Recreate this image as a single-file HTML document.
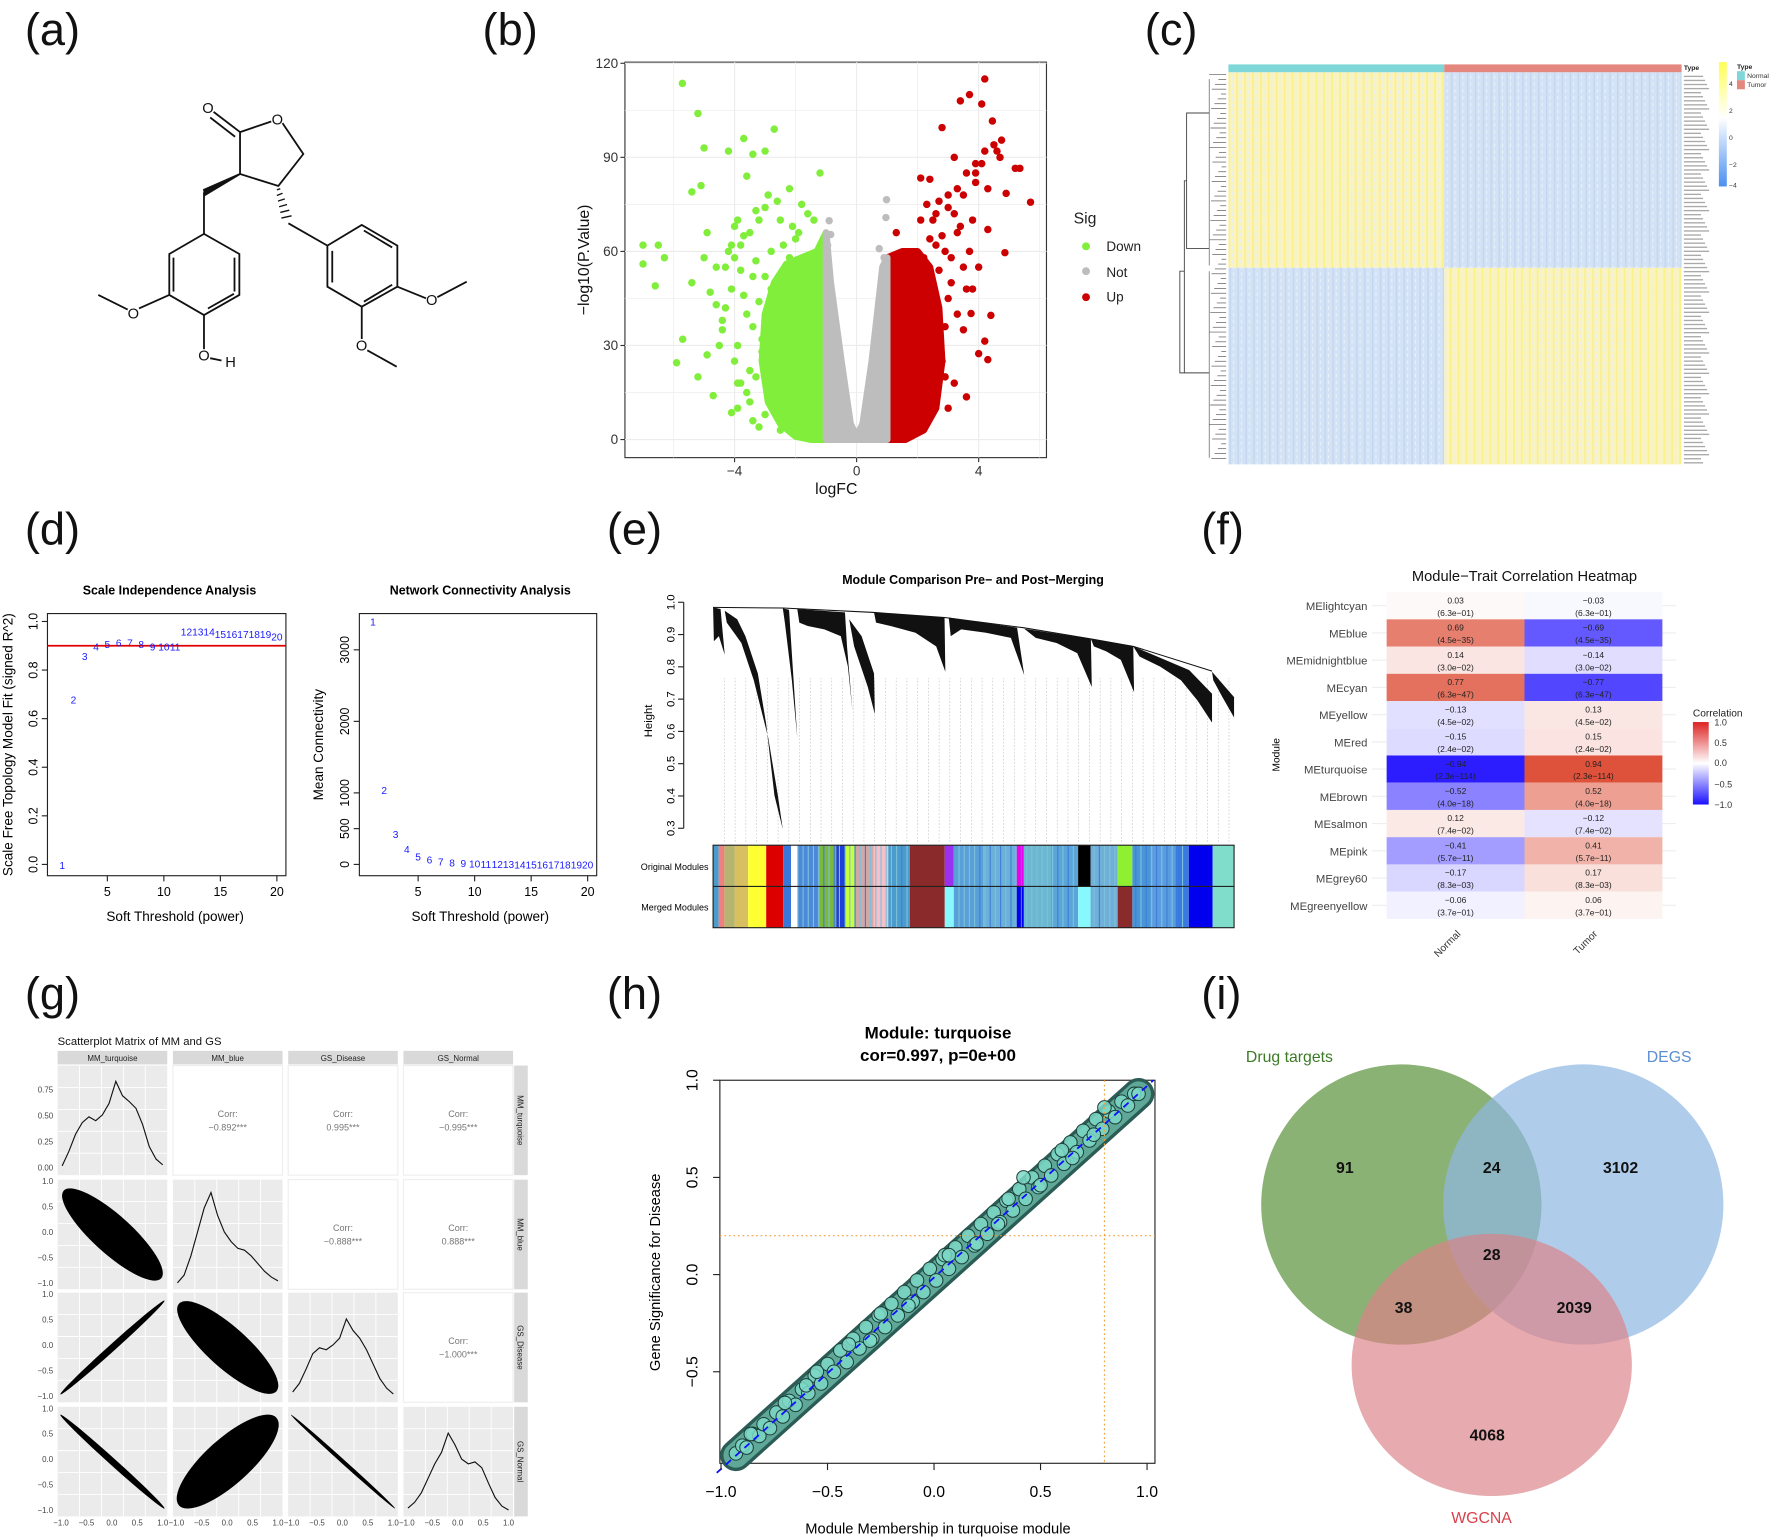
<!DOCTYPE html>
<html><head><meta charset="utf-8">
<style>
html,body{margin:0;padding:0;background:#fff;}
svg{display:block;font-family:"Liberation Sans",Arial,sans-serif;}
</style></head>
<body>
<svg id="fig" width="1772" height="1539" viewBox="0 0 1568 1362" preserveAspectRatio="none" xmlns="http://www.w3.org/2000/svg">
<rect x="0" y="0" width="1568" height="1362" fill="#fff"/>
<g font-size="40" fill="#111">
<text x="22" y="40">(a)</text>
<text x="427" y="40">(b)</text>
<text x="1013" y="40">(c)</text>
<text x="22" y="482">(d)</text>
<text x="537" y="482">(e)</text>
<text x="1063" y="482">(f)</text>
<text x="22" y="893">(g)</text>
<text x="537" y="893">(h)</text>
<text x="1063" y="893">(i)</text>
</g>

<!-- (a) structure -->
<g id="chem" stroke="#111" stroke-width="1.6" fill="none">
<polyline points="212.4,116.9 240,107.5"/>
<polyline points="250,109 268.4,136.3 246.3,164.6 212.4,154 212.4,116.9"/>
<line x1="212.4" y1="116.9" x2="189" y2="99"/>
<line x1="208" y1="121" x2="186" y2="104"/>
<polygon points="212.4,154 180.5,168 181.5,172.5" fill="#111"/>
<line x1="180.5" y1="170.2" x2="180.5" y2="207"/>
<polygon points="180.5,207 211.8,224.8 211.8,261 180.5,278.8 149.8,261 149.8,224.8"/>
<polyline points="153.5,228 153.5,258"/>
<polyline points="207.5,228 207.5,258"/>
<polyline points="184,273 207,260"/>
<polyline points="149.8,261 123,273"/>
<polyline points="113,274 87,261"/>
<polyline points="180.5,278.8 180.5,309"/>
<line x1="186" y1="317" x2="196" y2="319"/>
<g stroke-width="1.2">
<line x1="245" y1="168" x2="248" y2="167"/><line x1="245" y1="173" x2="250" y2="171"/><line x1="246" y1="178" x2="252" y2="176"/><line x1="247" y1="183" x2="254" y2="181"/><line x1="248" y1="188" x2="256" y2="186"/><line x1="249" y1="193" x2="258" y2="191"/>
</g>
<line x1="255.2" y1="197.6" x2="289.7" y2="217.4"/>
<polygon points="289.7,217.4 320.1,199.1 351.6,217.4 351.6,253.7 320.1,271.4 289.7,253.7"/>
<polyline points="294,222 294,250"/>
<polyline points="322,204 347,219"/>
<polyline points="322,267 347,252"/>
<polyline points="351.6,253.7 377,264"/>
<polyline points="387,263 413,249.3"/>
<polyline points="320.1,271.4 320.1,300"/>
<polyline points="325,310 351,324.5"/>
</g>
<g font-size="13" fill="#111" text-anchor="middle">
<text x="184" y="100">O</text>
<text x="245.4" y="110">O</text>
<text x="118" y="282">O</text>
<text x="180.5" y="319">O</text>
<text x="204" y="325">H</text>
<text x="382" y="270">O</text>
<text x="320" y="310">O</text>
</g>

<!-- (b) volcano -->
<g id="volcano">
<rect x="553" y="55" width="373" height="350" fill="#fff" stroke="#333" stroke-width="1"/>
<g id="vgrid"></g>
<g id="vdense"></g>
<g id="vpts"></g>
<g id="vaxes" font-size="12" fill="#333"></g>
<text x="740" y="437" font-size="14" text-anchor="middle" fill="#111">logFC</text>
<text transform="translate(521,230) rotate(-90)" font-size="14" text-anchor="middle" fill="#111">−log10(P.Value)</text>
<text x="950" y="198" font-size="14" fill="#222">Sig</text>
<circle cx="961" cy="218" r="3.5" fill="#80ee3b"/>
<text x="979" y="222" font-size="12" fill="#222">Down</text>
<circle cx="961" cy="240" r="3.5" fill="#bdbdbd"/>
<text x="979" y="245" font-size="12" fill="#222">Not</text>
<circle cx="961" cy="263" r="3.5" fill="#cc0000"/>
<text x="979" y="267" font-size="12" fill="#222">Up</text>
</g>

<!-- (c) heatmap -->
<defs>
<pattern id="stripY" width="7" height="6" patternUnits="userSpaceOnUse">
<rect width="7" height="6" fill="#f9f3bf"/><rect x="2" width="1.5" height="6" fill="#fbf08a"/><rect x="5" y="2" width="1" height="3" fill="#e8eef6"/>
</pattern>
<pattern id="stripB" width="7" height="6" patternUnits="userSpaceOnUse">
<rect width="7" height="6" fill="#d3e2f5"/><rect x="3" width="1.2" height="6" fill="#c3d6f0"/><rect x="6" y="1" width="1" height="3" fill="#e9f0fa"/>
</pattern>
<linearGradient id="hmLeg" x1="0" y1="0" x2="0" y2="1">
<stop offset="0" stop-color="#ffff55"/><stop offset="0.45" stop-color="#ffffff"/><stop offset="1" stop-color="#4a8ff0"/>
</linearGradient>
<linearGradient id="corLeg" x1="0" y1="0" x2="0" y2="1">
<stop offset="0" stop-color="#dd2222"/><stop offset="0.5" stop-color="#ffffff"/><stop offset="1" stop-color="#1a10ff"/>
</linearGradient>
</defs>
<g id="heatmap">
<rect x="1087" y="57" width="191" height="7" fill="#7fd7d9"/>
<rect x="1278" y="57" width="210" height="7" fill="#e4877f"/>
<rect x="1087" y="64" width="191" height="173" fill="url(#stripY)"/>
<rect x="1278" y="64" width="210" height="173" fill="url(#stripB)"/>
<rect x="1087" y="237" width="191" height="174" fill="url(#stripB)"/>
<rect x="1278" y="237" width="210" height="174" fill="url(#stripY)"/>
<g id="dendro-c" stroke="#444" stroke-width="0.8" fill="none">
<polyline points="1070,100 1050,100 1050,220 1070,220"/>
<polyline points="1050,160 1048,160 1048,330 1070,330"/>
<polyline points="1048,240 1044,240 1044,330 1048,330"/>
</g>
<g id="dlines" stroke="#555" stroke-width="0.6"></g>
<g id="genelbl" fill="#888"></g>
<text x="1490" y="62" font-size="6" font-weight="bold" fill="#222">Type</text>
<rect x="1521" y="55" width="7" height="110" fill="url(#hmLeg)"/>
<g font-size="6" fill="#333">
<text x="1530" y="76">4</text><text x="1530" y="100">2</text><text x="1530" y="124">0</text><text x="1530" y="148">−2</text><text x="1530" y="166">−4</text>
</g>
<text x="1537" y="61" font-size="6" font-weight="bold" fill="#222">Type</text>
<rect x="1537" y="63" width="7" height="8" fill="#7fd7d9"/>
<text x="1546" y="69" font-size="6" fill="#333">Normal</text>
<rect x="1537" y="71" width="7" height="8" fill="#e4877f"/>
<text x="1546" y="77" font-size="6" fill="#333">Tumor</text>
</g>

<!-- (d) -->
<g id="sft">
<text x="150" y="526" font-size="11" font-weight="bold" text-anchor="middle">Scale Independence Analysis</text>
<rect x="42" y="543" width="211" height="232" fill="none" stroke="#222"/>
<text x="155" y="815" font-size="12" text-anchor="middle">Soft Threshold (power)</text>
<text transform="translate(11,659) rotate(-90)" font-size="12" text-anchor="middle">Scale Free Topology Model Fit (signed R^2)</text>
<text x="425" y="526" font-size="11" font-weight="bold" text-anchor="middle">Network Connectivity Analysis</text>
<rect x="318" y="543" width="210" height="232" fill="none" stroke="#222"/>
<text x="425" y="815" font-size="12" text-anchor="middle">Soft Threshold (power)</text>
<text transform="translate(286,659) rotate(-90)" font-size="12" text-anchor="middle">Mean Connectivity</text>
<g id="sftg" font-size="11"></g>
</g>

<!-- (e) -->
<g id="dendro">
<text x="861" y="517" font-size="11" font-weight="bold" text-anchor="middle">Module Comparison Pre− and Post−Merging</text>
<text transform="translate(577,638) rotate(-90)" font-size="10" text-anchor="middle">Height</text>
<g id="eaxis" font-size="10"></g>
<g id="edots" stroke="#bbb" stroke-width="0.5" stroke-dasharray="1.5,1.5"></g>
<g id="eclust"></g>
<g id="ebars"></g>
<rect x="631" y="748" width="461" height="73" fill="none" stroke="#222" stroke-width="1"/>
<line x1="631" y1="784.5" x2="1092" y2="784.5" stroke="#222"/>
<text x="627" y="770" font-size="8" text-anchor="end">Original Modules</text>
<text x="627" y="806" font-size="8" text-anchor="end">Merged Modules</text>
</g>

<!-- (f) -->
<g id="mtc">
<text x="1349" y="514" font-size="13" text-anchor="middle" fill="#111">Module−Trait Correlation Heatmap</text>
<text transform="translate(1132,668) rotate(-90)" font-size="9" text-anchor="middle">Module</text>
<g id="mtcg"></g>
<text x="1498" y="634" font-size="9" fill="#222">Correlation</text>
<rect x="1498" y="639" width="14" height="73" fill="url(#corLeg)"/>
<g font-size="8" fill="#333">
<text x="1517" y="642">1.0</text><text x="1517" y="660">0.5</text><text x="1517" y="678">0.0</text><text x="1517" y="697">−0.5</text><text x="1517" y="715">−1.0</text>
</g>
<text transform="translate(1293,827) rotate(-45)" font-size="9" text-anchor="end" fill="#333">Normal</text>
<text transform="translate(1414,827) rotate(-45)" font-size="9" text-anchor="end" fill="#333">Tumor</text>
</g>

<!-- (g) -->
<g id="spm">
<text x="51" y="925" font-size="10" fill="#111">Scatterplot Matrix of MM and GS</text>
<g id="spmg"></g>
</g>

<!-- (h) -->
<g id="mmgs">
<text x="830" y="919" font-size="15" font-weight="bold" text-anchor="middle">Module: turquoise</text>
<text x="830" y="939" font-size="15" font-weight="bold" text-anchor="middle">cor=0.997, p=0e+00</text>
<rect x="637" y="956" width="385" height="339" fill="none" stroke="#222"/>
<g id="hpts"></g>
<g id="haxes" font-size="14"></g>
<text x="830" y="1357" font-size="13" text-anchor="middle">Module Membership in turquoise module</text>
<text transform="translate(584,1126) rotate(-90)" font-size="13" text-anchor="middle">Gene Significance for Disease</text>
</g>

<!-- (i) -->
<g id="venn">
<circle cx="1240" cy="1066" r="124" fill="#5e9440" fill-opacity="0.72"/>
<circle cx="1401" cy="1066" r="124" fill="#8fb6e2" fill-opacity="0.7"/>
<ellipse cx="1320" cy="1208" rx="124" ry="116" fill="#dc8188" fill-opacity="0.68"/>
<text x="1141" y="940" font-size="14" fill="#3c7a26" text-anchor="middle">Drug targets</text>
<text x="1477" y="940" font-size="14" fill="#5b8fd0" text-anchor="middle">DEGS</text>
<text x="1311" y="1348" font-size="14" fill="#d9414b" text-anchor="middle">WGCNA</text>
<g font-size="14" font-weight="bold" fill="#111" text-anchor="middle">
<text x="1190" y="1038">91</text>
<text x="1320" y="1038">24</text>
<text x="1434" y="1038">3102</text>
<text x="1320" y="1115">28</text>
<text x="1242" y="1162">38</text>
<text x="1393" y="1162">2039</text>
<text x="1316" y="1275">4068</text>
</g>
</g>
</svg>

<script>
const NS='http://www.w3.org/2000/svg';
function mk(tag,attrs,parent,txt){const e=document.createElementNS(NS,tag);for(const k in attrs)e.setAttribute(k,attrs[k]);if(txt!==undefined)e.textContent=txt;parent.appendChild(e);return e;}
const $=id=>document.getElementById(id);

/* ---------- (b) volcano data ---------- */
const downFC=[-5.71,-5.2,-5.0,-4.2,-3.7,-3.4,-3.0,-2.7,-1.2,-7.0,-6.5,-7.0,-6.3,-6.6,-5.9,-5.7,-5.4,-5.1,-4.7,-4.1,-5.4,-4.9,-2.4,-4.6,-4.3,-3.9,-3.3,-2.9,-4.9,-3.6,-4.4,-5.2,-3.8,-2.2,-1.6,
 -4.0,-3.8,-3.5,-3.2,-3.0,-3.4,-3.7,-4.1,-4.4,-3.9,-3.1,-2.8,-3.6,-4.2,-3.3,-2.9,-3.5,-4.0,-3.2,-2.6,-3.8,-4.5,-3.0,-2.5,-3.4,-2.1,-1.8,-1.4,-2.0,-3.9,-4.6,-3.1,-2.7,-3.6,-4.3,
 -3.0,-3.3,-2.8,-2.4,-3.5,-3.9,-4.1,-2.2,-2.9,-3.7,-1.9,-1.6,-2.3,-3.2,-2.6,-4.8,-5.0,-4.0,-3.4,-2.5];
const downP=[113.6,104,93,92,96,91,92,99,85,62,62,56,58,49,24.5,32,79,81,14,8.6,50,27,4,43,55,70,73,78,66,84,38,20,18,80,72,
 58,62,66,70,74,52,46,48,35,30,28,60,40,60,20,16,12,25,44,76,54,30,8,70,36,68,75,70,64,10,55,32,45,15,42,
 52,57,48,62,22,18,62,58,38,65,66,58,12,4,30,47,58,68,6,3];
const upFC=[4.2,3.7,3.4,2.8,4.75,5.35,5.7,4.86,4.9,2.1,1.3,4.3,4.4,4.0,4.3,4.2,3.6,4.1,4.45,5.2,3.75,3.2,3.0,2.6,2.4,3.5,3.9,4.6,3.1,2.9,3.3,2.5,
 2.7,3.0,3.3,3.6,3.9,4.1,2.5,2.8,3.2,3.5,3.8,2.6,2.9,3.4,3.7,4.0,2.3,3.1,3.6,4.3,4.7,2.7,3.0,3.3,2.4,2.2,2.9,3.8,3.5,2.6,4.5,4.2,3.9,2.8,3.2,2.1,2.5,3.0];
const upP=[115,110,108,99.5,95.5,86.5,75.7,59.6,78.5,83.4,66,67,39.6,27.4,25.5,31.4,13.6,107,101.6,86.5,40.2,90,78,72,83,55,88,92,50,20,66,12,
 76,74,80,85,82,88,70,65,72,78,70,62,60,68,60,55,75,58,48,80,90,54,45,40,64,58,36,48,35,30,94,92,85,25,18,70,50,10];
const notFC=[0.98,0.96,-0.9,-0.85,0.74,-0.95,0.9];
const notP=[76.5,70.8,69.8,65.4,60.9,62,58];
const downEnvFC=[-1.0,-1.0,-1.3,-1.8,-2.3,-2.7,-3.0,-3.1,-2.9,-2.5,-2.0,-1.5];
const downEnvP=[0,66,60,58,56,50,40,25,12,5,1,0];
const upEnvFC=[1.0,1.0,1.5,2.0,2.4,2.7,2.8,2.6,2.2,1.6];
const upEnvP=[0,58,60,60,55,42,25,10,3,0];
const notEnvFC=[-1.0,-1.0,-0.85,-0.5,-0.2,0,0.2,0.5,0.85,1.0,1.0];
const notEnvP=[0,66,50,25,5,1,5,25,55,58,0];
const vxTicks=[-4,0,4];
const vyTicks=[0,30,60,90,120];
(function(){
 const X=v=>758+v*27, Y=v=>389-v*2.775;
 const g=$('vgrid');
 [-6,-2,2,6].concat(vxTicks).forEach(t=>{if(X(t)>553&&X(t)<926){const l=mk('line',{x1:X(t),x2:X(t),y1:55,y2:405,stroke:'#ececec','stroke-width':vxTicks.includes(t)?1:0.6},g);

}});
 [15,45,75,105].concat(vyTicks).forEach(t=>{const l=mk('line',{x1:553,x2:926,y1:Y(t),y2:Y(t),stroke:'#ececec','stroke-width':vyTicks.includes(t)?1:0.6},g);

});
 const d=$('vdense');
 function env(fc,p,col,name){const pts=fc.map((f,i)=>X(f)+','+Y(p[i])).join(' ');const e=mk('polygon',{points:pts,fill:col,stroke:col,'stroke-width':6,'stroke-linejoin':'round'},d);
 
 }
 env(downEnvFC,downEnvP,'#80ee3b','down-dense-cloud');
 env(upEnvFC,upEnvP,'#cc0000','up-dense-cloud');
 env(notEnvFC,notEnvP,'#bdbdbd','not-dense-cloud');
 const p=$('vpts');
 downFC.forEach((f,i)=>{const c=mk('circle',{cx:X(f),cy:Y(downP[i]),r:3.3,fill:'#80ee3b'},p);
 
 });
 upFC.forEach((f,i)=>{const c=mk('circle',{cx:X(f),cy:Y(upP[i]),r:3.3,fill:'#cc0000'},p);
 
 });
 notFC.forEach((f,i)=>{const c=mk('circle',{cx:X(f),cy:Y(notP[i]),r:3.3,fill:'#bdbdbd'},p);
 
 });
 const a=$('vaxes');
 vxTicks.forEach(t=>{mk('line',{x1:X(t),x2:X(t),y1:405,y2:409,stroke:'#333'},a);const tx=mk('text',{x:X(t),y:421,'text-anchor':'middle'},a,t<0?'−'+(-t):String(t));
 
 });
 vyTicks.forEach(t=>{mk('line',{x1:549,x2:553,y1:Y(t),y2:Y(t),stroke:'#333'},a);const tx=mk('text',{x:547,y:Y(t)+4,'text-anchor':'end'},a,String(t));
 
 });
})();

/* ---------- (c) heatmap decorations ---------- */
(function(){
 const d=$('dlines');
 for(let y=66;y<410;y+=4.3){const l=mk('line',{x1:1070+((y*7)%11),x2:1085,y1:y,y2:y},d);
 
 }
 mk('line',{x1:1070,x2:1070,y1:70,y2:235},d);mk('line',{x1:1070,x2:1070,y1:240,y2:405},d);
 const gl=$('genelbl');
 for(let y=67;y<411;y+=3.6){const r=mk('rect',{x:1490,y:y,width:14+((y*3)%9),height:1.2,fill:'#aaa'},gl);
 
 }
})();

/* ---------- (d) soft threshold data ---------- */
const powers=[1,2,3,4,5,6,7,8,9,10,11,12,13,14,15,16,17,18,19,20];
const sftR2=[0.0,0.68,0.86,0.9,0.91,0.915,0.915,0.91,0.9,0.9,0.9,0.96,0.96,0.96,0.95,0.95,0.95,0.95,0.95,0.94];
const meanK=[3400,1050,430,220,120,75,50,35,25,18,14,12,10,9,8,8,7,7,6,6];
const r2Ticks=[0,0.2,0.4,0.6,0.8,1.0];
const kTicks=[0,500,1000,2000,3000];
const powTicks=[5,10,15,20];
const cutoff=0.9;
(function(){
 const g=$('sftg');
 const XL=v=>45+v*10, YL=v=>765-v*215;
 const XR=v=>320+v*10, YR=v=>765-v*0.0633;
 const h=mk('line',{x1:42,x2:253,y1:YL(cutoff),y2:YL(cutoff),stroke:'#e00000','stroke-width':1.5},g);
 
 
 powers.forEach((p,i)=>{const t=mk('text',{x:XL(p),y:YL(sftR2[i])+4,'text-anchor':'middle',fill:'#1a1aff','font-size':9},g,String(p));
 
 
 const t2=mk('text',{x:XR(p),y:YR(meanK[i])+4,'text-anchor':'middle',fill:'#1a1aff','font-size':9},g,String(p));
 
 });
 powTicks.forEach(p=>{mk('line',{x1:XL(p),x2:XL(p),y1:775,y2:780,stroke:'#222'},g);const a=mk('text',{x:XL(p),y:793,'text-anchor':'middle'},g,String(p));
 
 
 mk('line',{x1:XR(p),x2:XR(p),y1:775,y2:780,stroke:'#222'},g);const b=mk('text',{x:XR(p),y:793,'text-anchor':'middle'},g,String(p));
 
 });
 r2Ticks.forEach(v=>{mk('line',{x1:37,x2:42,y1:YL(v),y2:YL(v),stroke:'#222'},g);const a=mk('text',{transform:`translate(33,${YL(v)}) rotate(-90)`,'text-anchor':'middle'},g,v.toFixed(1));
 
 });
 kTicks.forEach(v=>{mk('line',{x1:313,x2:318,y1:YR(v),y2:YR(v),stroke:'#222'},g);const a=mk('text',{transform:`translate(309,${YR(v)}) rotate(-90)`,'text-anchor':'middle'},g,String(v));
 
 });
})();

/* ---------- (e) dendrogram + module colours ---------- */
const origStart=[631,636,641,650,662,678,693,700,706,725,740,748,757,773,786,805,836,844,870,899,906,930,954,965,989,1002,1020,1040,1052,1073];
const origColor=['#4a9ccc','#f08080','#b5b570','#d8c060','#ffff33','#dd0000','#3a78d8','#ffffff','#4a8ad8','#7ab840','#1f3fd8','#c8ff40','#d0a8a8','#f5c0c8','#4a9ccc','#8b2a2a','#9b30f0','#5aa0d8','#6ab0d8','#ee00ee','#6cb8d0','#5aa6d8','#000000','#70b0d8','#8ef030','#4a94d8','#5a9ce0','#3a7ae0','#0000ee','#80dccb'];
const mergedStart=[631,636,641,650,662,678,693,700,706,725,740,748,757,773,786,805,836,844,870,899,906,930,954,965,989,1002,1020,1040,1052,1073];
const mergedColor=['#4a9ccc','#f08080','#b5b570','#d8c060','#ffff33','#dd0000','#3a78d8','#ffffff','#4a8ad8','#7ab840','#1f3fd8','#c8ff40','#d0a8a8','#f5c0c8','#4a9ccc','#8b2a2a','#88f8ff','#5aa0d8','#6ab0d8','#0000ee','#6cb8d0','#5aa6d8','#88f8ff','#70b0d8','#8b2a2a','#4a94d8','#5a9ce0','#3a7ae0','#0000ee','#80dccb'];
const heightTicks=[0.3,0.4,0.5,0.6,0.7,0.8,0.9,1.0];
(function(){
 const Y=v=>733-(v-0.3)*285.7;
 const ax=$('eaxis');
 mk('line',{x1:605,x2:605,y1:Y(0.3),y2:Y(1.0),stroke:'#222'},ax);
 heightTicks.forEach(v=>{mk('line',{x1:600,x2:605,y1:Y(v),y2:Y(v),stroke:'#222'},ax);const t=mk('text',{transform:`translate(597,${Y(v)}) rotate(-90)`,'text-anchor':'middle'},ax,v.toFixed(1));
 
 });
 const dots=$('edots');
 for(let x=641;x<1092;x+=9.5){mk('line',{x1:x,x2:x,y1:745,y2:600},dots);}
 const Z=(zx,zy)=>(631+(zx-272)*0.367).toFixed(1)+','+(533+(zy-70)*0.3).toFixed(1);
 const cl=$('eclust');
 const top=mk('polyline',{points:[Z(272,85),Z(440,87),Z(660,100),Z(830,115),Z(1020,145),Z(1183,178),Z(1285,200),Z(1475,273)].join(' '),fill:'none',stroke:'#111','stroke-width':0.9},cl);
 
 
 const shapes=[
  [[272,85],[290,90],[300,225],[286,170],[274,185]],
  [[300,95],[330,120],[350,170],[380,280],[400,430],[420,640],[440,740],[428,640],[405,470],[370,300],[340,190],[305,130]],
  [[440,88],[455,92],[475,470],[462,300],[445,130]],
  [[475,90],[590,100],[595,200],[608,390],[597,260],[580,170],[540,150],[500,140],[480,130]],
  [[600,120],[630,170],[660,280],[662,400],[645,320],[612,200]],
  [[660,100],[830,115],[832,275],[810,200],[760,160],[700,140],[665,130]],
  [[840,115],[1005,145],[1022,285],[990,175],[930,160],[870,150],[845,170]],
  [[1022,148],[1183,178],[1185,320],[1150,220],[1100,190],[1050,175]],
  [[1183,178],[1285,200],[1287,335],[1255,240],[1220,215],[1190,200]],
  [[1285,200],[1420,270],[1475,340],[1475,425],[1440,360],[1400,300],[1350,260],[1300,230]],
  [[1475,275],[1528,350],[1528,410],[1500,350],[1478,300]]
 ];
 shapes.forEach(s=>{const p=mk('polygon',{points:s.map(q=>Z(q[0],q[1])).join(' '),fill:'#111'},cl);
 
 });
 const b=$('ebars');
 origStart.forEach((x,i)=>{const x2=i+1<origStart.length?origStart[i+1]:1092;const r=mk('rect',{x:x,y:748,width:x2-x,height:36.5,fill:origColor[i]},b);
 
 });
 mergedStart.forEach((x,i)=>{const x2=i+1<mergedStart.length?mergedStart[i+1]:1092;const r=mk('rect',{x:x,y:784.5,width:x2-x,height:36.5,fill:mergedColor[i]},b);
 
 });
 for(let x=706;x<1050;x+=4.6){if((x>805&&x<845)||(x>952&&x<967)||(x>988&&x<1003))continue;const l=mk('line',{x1:x,x2:x,y1:748,y2:821,stroke:(Math.floor(x)%3===0)?'#3f7fd8':'#7cc0dc','stroke-width':1},b);
 
 }
})();

/* ---------- (f) module-trait data ---------- */
const modules=['MElightcyan','MEblue','MEmidnightblue','MEcyan','MEyellow','MEred','MEturquoise','MEbrown','MEsalmon','MEpink','MEgrey60','MEgreenyellow'];
const corNormal=[0.03,0.69,0.14,0.77,-0.13,-0.15,-0.94,-0.52,0.12,-0.41,-0.17,-0.06];
const pvals=['6.3e-01','4.5e-35','3.0e-02','6.3e-47','4.5e-02','2.4e-02','2.3e-114','4.0e-18','7.4e-02','5.7e-11','8.3e-03','3.7e-01'];
(function(){
 const g=$('mtcg');
 const x0=1227,cw=122,y0=524,rh=24.1;
 function col(v){const t=Math.min(1,Math.abs(v));
  if(v>=0){return `rgb(${Math.round(255-(255-220)*t)},${Math.round(255-(255-70)*t)},${Math.round(255-(255-45)*t)})`;}
  return `rgb(${Math.round(255-(255-30)*t)},${Math.round(255-(255-15)*t)},255)`;}
 modules.forEach((m,i)=>{
  const y=y0+i*rh;
  mk('line',{x1:1214,x2:1483,y1:y+rh/2,y2:y+rh/2,stroke:'#eee'},g);
  const lab=mk('text',{x:1210,y:y+rh/2+4,'text-anchor':'end','font-size':10,fill:'#444'},g,m);
  
  
  [corNormal[i],-corNormal[i]].forEach((v,j)=>{
   const r=mk('rect',{x:x0+j*cw,y:y,width:cw,height:rh,fill:col(v)},g);
   
   
   const s=(v<0?'−':'')+Math.abs(v).toFixed(2);
   const t1=mk('text',{x:x0+j*cw+cw/2,y:y+10,'text-anchor':'middle','font-size':7.5,fill:'#222'},g,s);
   
   
   const t2=mk('text',{x:x0+j*cw+cw/2,y:y+21,'text-anchor':'middle','font-size':7.5,fill:'#222'},g,'('+pvals[i].replace('-','−')+')');
   
   
  });
 });
})();

/* ---------- (g) scatterplot matrix ---------- */
const vars=['MM_turquoise','MM_blue','GS_Disease','GS_Normal'];
const corrs=[['','−0.892***','0.995***','−0.995***'],['','','−0.888***','0.888***'],['','','','−1.000***']];
const densTurq=[0.05,0.2,0.38,0.5,0.56,0.52,0.58,0.7,0.93,0.78,0.72,0.65,0.48,0.25,0.12,0.06];
const densBlue=[0.02,0.1,0.3,0.55,0.8,0.96,0.72,0.55,0.45,0.38,0.36,0.3,0.22,0.14,0.08,0.04];
const densDis=[0.06,0.15,0.3,0.46,0.52,0.5,0.55,0.62,0.82,0.7,0.62,0.5,0.35,0.2,0.1,0.04];
const densNorm=[0.04,0.1,0.2,0.35,0.5,0.62,0.82,0.7,0.55,0.5,0.52,0.46,0.3,0.15,0.06,0.02];
const pairSlope=[[0,0,0,0],[-1,0,0,0],[1,-1,0,0],[-1,1,-1,0]];
const pairWidth=[[0,0,0,0],[17,0,0,0],[3,18,0,0],[3,20,1.8,0]];
(function(){
 const g=$('spmg');
 const cx=[51,153,255,357], cy=[943,1044,1144,1245], s=97;
 vars.forEach((v,i)=>{
  mk('rect',{x:cx[i],y:930,width:s,height:12,fill:'#d9d9d9'},g);
  const t=mk('text',{x:cx[i]+s/2,y:939,'text-anchor':'middle','font-size':7,fill:'#222'},g,v);
  
  
  mk('rect',{x:455,y:cy[i],width:12,height:s,fill:'#d9d9d9'},g);
  const t2=mk('text',{transform:`translate(458,${cy[i]+s/2}) rotate(90)`,'text-anchor':'middle','font-size':7,fill:'#222'},g,v);
  
  
 });
 const dens=[densTurq,densBlue,densDis,densNorm];
 for(let r=0;r<4;r++)for(let c=0;c<4;c++){
  const x=cx[c],y=cy[r];
  if(c>r){
   mk('rect',{x:x,y:y,width:s,height:s,fill:'#fff',stroke:'#eee'},g);
   const a=mk('text',{x:x+s/2,y:y+s/2-3,'text-anchor':'middle','font-size':8,fill:'#777'},g,'Corr:');
   
   
   const b=mk('text',{x:x+s/2,y:y+s/2+9,'text-anchor':'middle','font-size':8,fill:'#777'},g,corrs[r][c]);
   
   
   continue;}
  mk('rect',{x:x,y:y,width:s,height:s,fill:'#ebebeb'},g);
  for(let k=1;k<5;k++){mk('line',{x1:x+k*s/5,x2:x+k*s/5,y1:y,y2:y+s,stroke:'#fff','stroke-width':0.8},g);mk('line',{x1:x,x2:x+s,y1:y+k*s/5,y2:y+k*s/5,stroke:'#fff','stroke-width':0.8},g);}
  if(r===c){
   const d=dens[r];const pts=d.map((v,k)=>(x+4+k*(s-8)/(d.length-1)).toFixed(1)+','+(y+s-4-v*(s-12)).toFixed(1)).join(' ');
   const p=mk('polyline',{points:pts,fill:'none',stroke:'#111','stroke-width':1},g);
   
   
  } else {
   const sl=pairSlope[r][c],w=pairWidth[r][c];
   const ccx=x+s/2, ccy=y+s/2, ang=sl<0?42:-42;
   const e=mk('ellipse',{cx:ccx,cy:ccy,rx:w>5?58:62,ry:w,fill:'#000',transform:`rotate(${ang} ${ccx} ${ccy})`},g);
   
   
  }
 }
 const yl1=['0.75','0.50','0.25','0.00'];
 yl1.forEach((t,k)=>{const e=mk('text',{x:47,y:cy[0]+24+k*23,'text-anchor':'end','font-size':7,fill:'#444'},g,t);
 
 });
 const yl=['1.0','0.5','0.0','−0.5','−1.0'];
 for(let r=1;r<4;r++)yl.forEach((t,k)=>{const e=mk('text',{x:47,y:cy[r]+4+k*22.5,'text-anchor':'end','font-size':7,fill:'#444'},g,t);
 
 });
 for(let c=0;c<4;c++)yl.slice().reverse().forEach((t,k)=>{const e=mk('text',{x:cx[c]+3+k*22.5,y:1350,'text-anchor':'middle','font-size':7,fill:'#444'},g,t);
 
 });
})();

/* ---------- (h) MM vs GS ---------- */
const mmVals=[-0.93,-0.9,-0.88,-0.85,-0.82,-0.8,-0.77,-0.74,-0.71,-0.68,-0.65,-0.62,-0.59,-0.56,-0.53,-0.5,-0.47,-0.44,-0.41,-0.38,-0.35,-0.32,-0.29,-0.26,-0.23,-0.2,-0.17,-0.14,-0.11,-0.08,-0.05,-0.02,0.01,0.04,0.07,0.1,0.13,0.16,0.19,0.22,0.25,0.28,0.31,0.34,0.37,0.4,0.43,0.46,0.49,0.52,0.55,0.58,0.61,0.64,0.67,0.7,0.73,0.76,0.79,0.82,0.85,0.88,0.91,0.94,0.96,-0.86,-0.7,-0.55,-0.4,-0.25,-0.1,0.05,0.2,0.35,0.5,0.65,0.8,0.6,0.3,-0.3,-0.6,0.42,0.07,-0.12,0.75];
const gsVals=[-0.92,-0.88,-0.89,-0.82,-0.83,-0.77,-0.79,-0.71,-0.73,-0.65,-0.67,-0.59,-0.61,-0.52,-0.56,-0.46,-0.5,-0.39,-0.45,-0.33,-0.38,-0.27,-0.33,-0.21,-0.27,-0.15,-0.21,-0.09,-0.15,-0.03,-0.09,0.03,-0.03,0.08,0.03,0.14,0.09,0.2,0.15,0.26,0.21,0.32,0.27,0.38,0.33,0.44,0.39,0.5,0.45,0.56,0.51,0.62,0.57,0.68,0.63,0.74,0.69,0.8,0.75,0.84,0.81,0.89,0.87,0.93,0.93,-0.82,-0.66,-0.5,-0.36,-0.2,-0.14,0.1,0.16,0.39,0.46,0.6,0.86,0.64,0.26,-0.34,-0.57,0.5,0.1,-0.16,0.72];
const hxTicks=[-1,-0.5,0,0.5,1];
const hyTicks=[-0.5,0,0.5,1];
const mmCut=0.8, gsCut=0.2;
(function(){
 const X=v=>826.5+v*188.5, Y=v=>1128-v*172;
 const g=$('hpts');
 const band=mk('line',{x1:X(-0.93),y1:Y(-0.93),x2:X(0.96),y2:Y(0.93),stroke:'#2b5c55','stroke-width':28,'stroke-linecap':'round'},g);
 
 
 const band2=mk('line',{x1:X(-0.93),y1:Y(-0.93),x2:X(0.96),y2:Y(0.93),stroke:'#5fa898','stroke-width':22,'stroke-linecap':'round'},g);
 
 
 mmVals.forEach((m,i)=>{const c=mk('circle',{cx:X(m),cy:Y(gsVals[i]),r:6,fill:'#7dd8c6','fill-opacity':0.85,stroke:'#1d3e39','stroke-width':0.9},g);
 
 });
 const fit=mk('line',{x1:X(-1.02),y1:Y(-1.02),x2:X(1.03),y2:Y(1.0),stroke:'#1010ff','stroke-width':1.6,'stroke-dasharray':'6,5'},g);
 
 
 const v=mk('line',{x1:X(mmCut),x2:X(mmCut),y1:956,y2:1295,stroke:'#f0a040','stroke-width':1,'stroke-dasharray':'1.5,2.5'},g);
 
 
 const h=mk('line',{x1:637,x2:1022,y1:Y(gsCut),y2:Y(gsCut),stroke:'#f0a040','stroke-width':1,'stroke-dasharray':'1.5,2.5'},g);
 
 
 const a=$('haxes');
 hxTicks.forEach(t=>{mk('line',{x1:X(t),x2:X(t),y1:1295,y2:1301,stroke:'#222'},a);const e=mk('text',{x:X(t),y:1325,'text-anchor':'middle'},a,(t<0?'−':'')+Math.abs(t).toFixed(1));
 
 });
 hyTicks.forEach(t=>{mk('line',{x1:631,x2:637,y1:Y(t),y2:Y(t),stroke:'#222'},a);const e=mk('text',{transform:`translate(617,${Y(t)}) rotate(-90)`,'text-anchor':'middle'},a,(t<0?'−':'')+Math.abs(t).toFixed(1));
 
 });
})();
</script>
</body></html>
